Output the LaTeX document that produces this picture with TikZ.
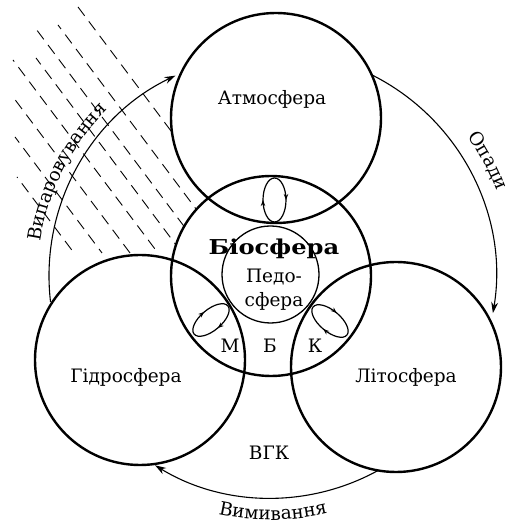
\documentclass[tikz,border=0pt]{standalone}
\usepackage{fontspec}
\setmainfont{DejaVu Serif}
\newfontfamily\biofont[FakeStretch=1.18]{DejaVu Serif}
\usetikzlibrary{arrows.meta,decorations.text,decorations.markings,calc}
\begin{document}
\begin{tikzpicture}[x=1pt,y=1pt,
  sphere/.style={circle, draw, line width=2.4pt, inner sep=0pt},
  lbl/.style={font=\fontsize{18.5}{18.5}\selectfont, anchor=base, inner sep=0pt},
  flow/.style={line width=1.1pt, -{Stealth[length=11pt,width=7pt]}},
  hatch/.style={line width=0.9pt, dash pattern=on 11pt off 7pt},
  loopline/.style={line width=1.2pt, postaction={decorate},
    decoration={markings,
      mark=at position 0.25 with {\arrow{Stealth[length=6pt,width=4.5pt]}},
      mark=at position 0.75 with {\arrow{Stealth[length=6pt,width=4.5pt]}}}}
]
\useasboundingbox (0,0) rectangle (513,525);
\coordinate (O) at (271,249);
% hatching
\foreach \sx/\sy/\ex/\ph in {78/518/262.5/0, 58/500/229/6, 33/500/204/11, 36/467/182/3, 13/465/158/9, 13/428/130/14, 15/388/102/4, 17/348/74/10}{
  \draw[hatch, dash phase=\ph pt] (\sx,\sy) -- (\ex,272);
}
% white cover of circles
\fill[white] (276,407) circle[radius=105pt];
\fill[white] (271,249) circle[radius=100pt];
\fill[white] (140,165) circle[radius=105pt];
% spheres
\node[sphere, minimum size=210pt] (atm) at (276,407) {};
\node[sphere, minimum size=200pt] (bio) at (271,249) {};
\node[sphere, minimum size=210pt] (hyd) at (140,165) {};
\node[sphere, minimum size=210pt] (lit) at (396,158) {};
\node[circle, draw, line width=1.3pt, minimum size=97pt, inner sep=0pt] (ped) at (270.5,250.5) {};
% labels
\node[lbl] (tatm) at (272,420) {Атмосфера};
\node[lbl, font=\biofont\bfseries\fontsize{20.5}{20.5}\selectfont] (tbio) at (274,270) {Біосфера};
\node[lbl] (tped1) at (274,242) {Педо-};
\node[lbl] (tped2) at (274,218) {сфера};
\node[lbl] (tm) at (230,172) {М};
\node[lbl] (tb) at (270,172) {Б};
\node[lbl] (tk) at (315,172) {К};
\node[lbl] (thyd) at (126,142) {Гідросфера};
\node[lbl] (tlit) at (406,142) {Літосфера};
\node[lbl] (tvgk) at (269,65) {ВГК};
% small cycles
\draw[loopline, shift={(274.5,325)}, rotate=90] (22pt,0pt) arc[start angle=0, end angle=-360, x radius=22pt, y radius=11.5pt];
\draw[loopline, shift={(211,205)}, rotate=40] (22pt,0pt) arc[start angle=0, end angle=-360, x radius=22pt, y radius=10.5pt];
\draw[loopline, shift={(330,204)}, rotate=-40] (22pt,0pt) arc[start angle=0, end angle=-360, x radius=22pt, y radius=10.5pt];
% outer flows
\draw[flow] ($(O)+(186.7:222pt)$) arc[start angle=186.7, end angle=115.5, radius=222pt];
\draw[flow] ($(O)+(63.3:225pt)$) arc[start angle=63.3, end angle=-9.5, radius=225pt];
\draw[flow] ($(O)+(-61:222pt)$) arc[start angle=-61, end angle=-121.5, radius=222pt];
% flow labels
\path[decorate, decoration={text along path, text align=center,
  text={|\fontsize{18.5}{18.5}\selectfont|Випаровування}}]
  ($(O)+(180:233pt)$) arc[start angle=180, end angle=126, radius=233pt];
\path[decorate, decoration={text along path, text align=center,
  text={|\fontsize{18.5}{18.5}\selectfont|Опади}}]
  ($(O)+(45:241pt)$) arc[start angle=45, end angle=11, radius=241pt];
\path[decorate, decoration={text along path, text align=center,
  text={|\fontsize{18.5}{18.5}\selectfont|Вимивання}}]
  ($(O)+(-117:244pt)$) arc[start angle=-117, end angle=-62, radius=244pt];
\end{tikzpicture}
\end{document}
